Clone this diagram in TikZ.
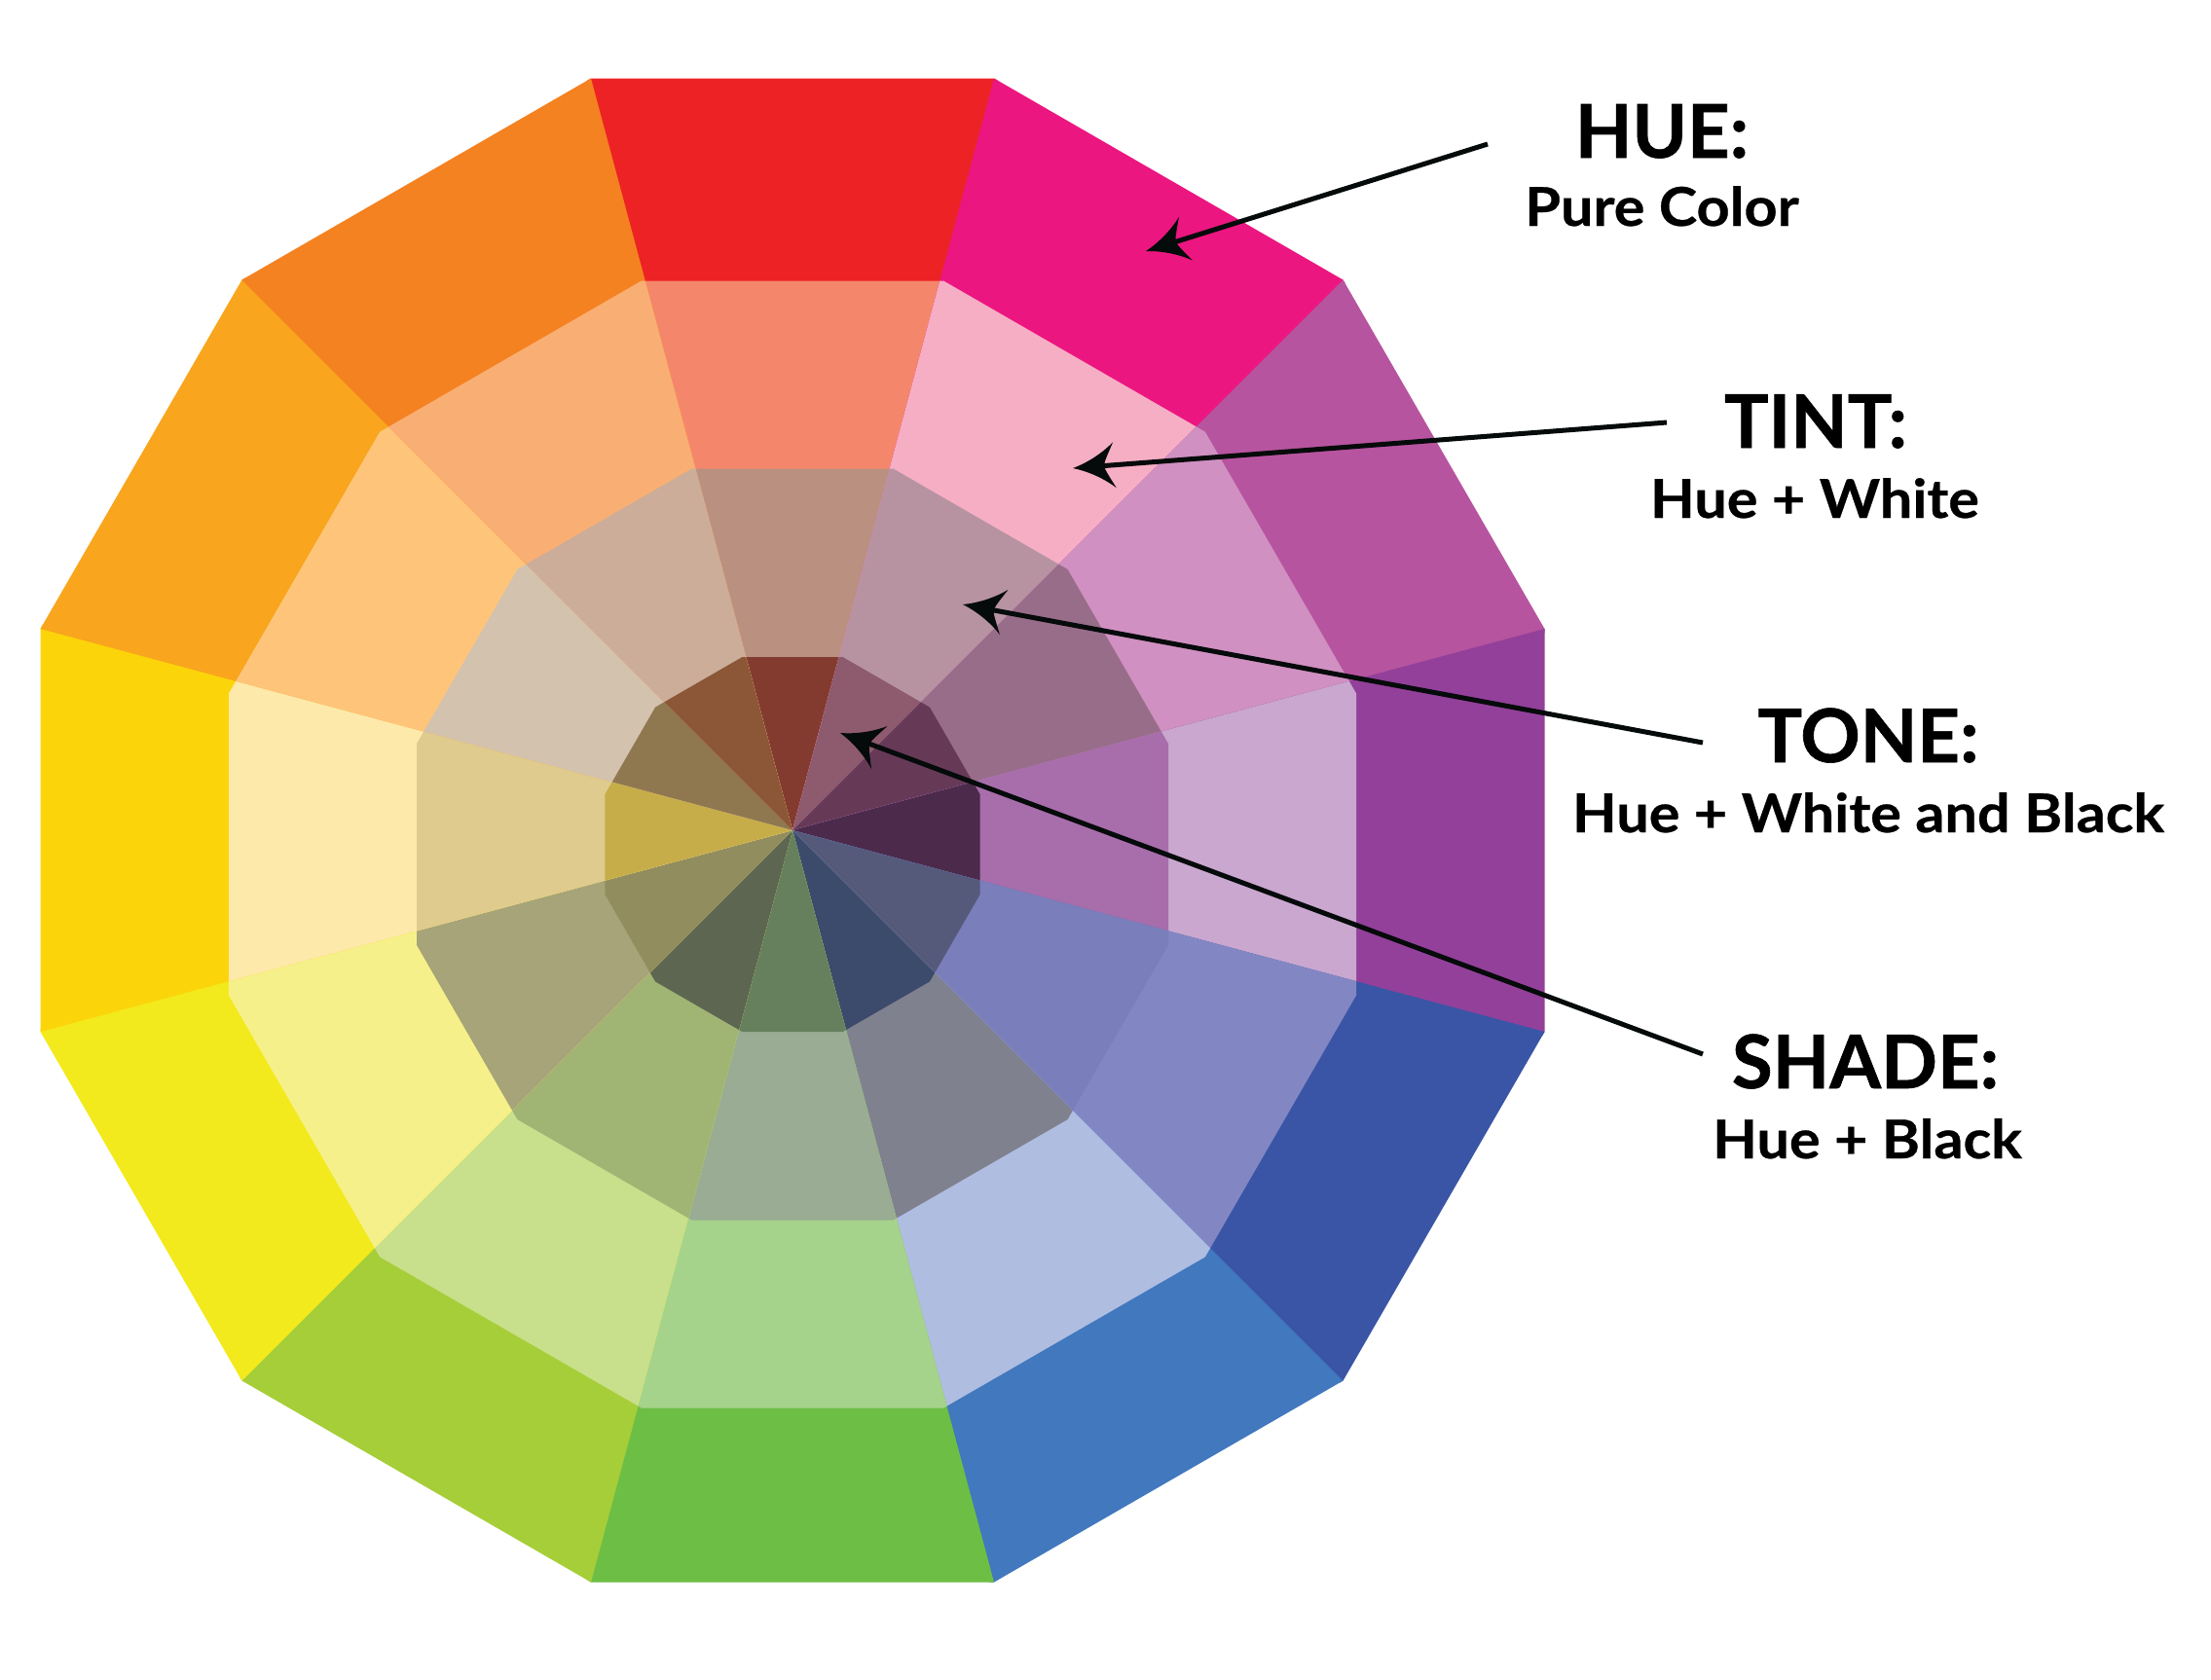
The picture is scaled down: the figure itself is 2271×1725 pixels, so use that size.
\documentclass[tikz,border=0pt]{standalone}
\usepackage{fontspec}
\setmainfont{Lato}
\newfontfamily\ttlfont[FakeBold=0.8]{Lato}
\newfontfamily\subfont[FakeStretch=1.08,FakeBold=0.5]{Lato}
\usetikzlibrary{arrows.meta,calc}

\definecolor{h0}{HTML}{ED2224}\definecolor{h1}{HTML}{EC1680}\definecolor{h2}{HTML}{B7549F}
\definecolor{h3}{HTML}{93409A}\definecolor{h4}{HTML}{3A55A5}\definecolor{h5}{HTML}{4178BE}
\definecolor{h6}{HTML}{6DBE45}\definecolor{h7}{HTML}{A6CE39}\definecolor{h8}{HTML}{F2EA1C}
\definecolor{h9}{HTML}{FCD40A}\definecolor{h10}{HTML}{F9A51D}\definecolor{h11}{HTML}{F48221}

\definecolor{t0}{HTML}{F4876B}\definecolor{t1}{HTML}{F6AEC4}\definecolor{t2}{HTML}{D090C1}
\definecolor{t3}{HTML}{C9A7CF}\definecolor{t4}{HTML}{8287C3}\definecolor{t5}{HTML}{AFBDE1}
\definecolor{t6}{HTML}{A5D38B}\definecolor{t7}{HTML}{C8DF8B}\definecolor{t8}{HTML}{F6F08A}
\definecolor{t9}{HTML}{FDE9AA}\definecolor{t10}{HTML}{FEC57A}\definecolor{t11}{HTML}{F9AF74}

\definecolor{n0}{HTML}{BA9080}\definecolor{n1}{HTML}{B793A1}\definecolor{n2}{HTML}{986D89}
\definecolor{n3}{HTML}{A86DAB}\definecolor{n4}{HTML}{7A7EBA}\definecolor{n5}{HTML}{80818F}
\definecolor{n6}{HTML}{9AAC93}\definecolor{n7}{HTML}{A0B574}\definecolor{n8}{HTML}{A6A478}
\definecolor{n9}{HTML}{DECB8D}\definecolor{n10}{HTML}{D3C2AE}\definecolor{n11}{HTML}{CBAD99}

\definecolor{s0}{HTML}{843B2F}\definecolor{s1}{HTML}{8E5A6D}\definecolor{s2}{HTML}{663A57}
\definecolor{s3}{HTML}{4C2A4B}\definecolor{s4}{HTML}{555A7B}\definecolor{s5}{HTML}{3C4A6B}
\definecolor{s6}{HTML}{66805D}\definecolor{s7}{HTML}{5D6650}\definecolor{s8}{HTML}{918D5E}
\definecolor{s9}{HTML}{C6AD4A}\definecolor{s10}{HTML}{8F7850}\definecolor{s11}{HTML}{8B5736}
\definecolor{inkc}{HTML}{050A0A}

\pgfdeclarearrow{
  name = Dart,
  setup code = {
    \pgfarrowssettipend{0pt}
    \pgfarrowssetbackend{-43pt}
    \pgfarrowssetvisualbackend{-32pt}
    \pgfarrowssetlineend{-28pt}
    \pgfarrowshullpoint{0pt}{0pt}
    \pgfarrowshullpoint{-43pt}{23.5pt}
    \pgfarrowshullpoint{-43pt}{-23.5pt}
  },
  drawing code = {
    \pgfpathmoveto{\pgfqpoint{0pt}{0pt}}
    \pgfpathcurveto{\pgfqpoint{-14pt}{4pt}}{\pgfqpoint{-30pt}{12pt}}{\pgfqpoint{-43pt}{23.5pt}}
    \pgfpathcurveto{\pgfqpoint{-37pt}{12pt}}{\pgfqpoint{-33pt}{5pt}}{\pgfqpoint{-32pt}{0pt}}
    \pgfpathcurveto{\pgfqpoint{-33pt}{-5pt}}{\pgfqpoint{-37pt}{-12pt}}{\pgfqpoint{-43pt}{-23.5pt}}
    \pgfpathcurveto{\pgfqpoint{-30pt}{-12pt}}{\pgfqpoint{-14pt}{-4pt}}{\pgfqpoint{0pt}{0pt}}
    \pgfpathclose
    \pgfusepathqfill
  }
}

\newcommand\ringpath[1]{(p#1-0) -- (p#1-1) -- (p#1-2) -- (p#1-3) -- (p#1-4) -- (p#1-5) -- (p#1-6) -- (p#1-7) -- (p#1-8) -- (p#1-9) -- (p#1-10) -- (p#1-11) -- cycle}

\newcommand\wheelwedge[6]{%
  \begin{scope}
    \clip (apex) -- ({814+1100*sin(#1)},{853-1100*cos(#1)})
      -- ({814+1100*sin((#1+#2)/2)},{853-1100*cos((#1+#2)/2)})
      -- ({814+1100*sin(#2)},{853-1100*cos(#2)}) -- cycle;
    \fill[#3] \ringpath{4};
    \fill[#4] \ringpath{3};
    \fill[#5] \ringpath{2};
    \fill[#6] \ringpath{1};
  \end{scope}}

\tikzset{
  title/.style={anchor=base, inner sep=0pt, font=\ttlfont\fontsize{76}{80}\selectfont\bfseries, text=black},
  subtitle/.style={anchor=base, inner sep=0pt, font=\subfont\fontsize{55}{60}\selectfont\bfseries, text=black},
  pointer/.style={draw=inkc, fill=inkc, line width=5pt, -Dart}
}

\begin{document}
\begin{tikzpicture}[x=1pt, y=-1pt]
\useasboundingbox (0,0) rectangle (2271,1725);
\coordinate (apex) at (814,853);
\foreach \rg/\pcy/\pR in {4/853/799.75, 3/867.5/599.42, 2/867.5/399.62, 1/867.5/199.3}{
  \foreach \k in {0,...,11}{
    \coordinate (p\rg-\k) at ({814+\pR*cos(15+30*\k)},{\pcy+\pR*sin(15+30*\k)});
  }
}

\wheelwedge{-15.3}{15.3}{h0}{t0}{n0}{s0}
\wheelwedge{15}{45.3}{h1}{t1}{n1}{s1}
\wheelwedge{45}{75.3}{h2}{t2}{n2}{s2}
\wheelwedge{75}{105.3}{h3}{t3}{n3}{s3}
\wheelwedge{105}{135.3}{h4}{t4}{n4}{s4}
\wheelwedge{135}{165.3}{h5}{t5}{n5}{s5}
\wheelwedge{165}{195.3}{h6}{t6}{n6}{s6}
\wheelwedge{195}{225.3}{h7}{t7}{n7}{s7}
\wheelwedge{225}{255.3}{h8}{t8}{n8}{s8}
\wheelwedge{255}{285.3}{h9}{t9}{n9}{s9}
\wheelwedge{285}{315.3}{h10}{t10}{n10}{s10}
\wheelwedge{315}{345}{h11}{t11}{n11}{s11}

% labels
\node[title] (hue) at (1707,162) {HUE:};
\node[subtitle] (huesub) at (1707,232) {Pure Color};
\node[title] (tint) at (1865,460) {TINT:};
\node[subtitle] (tintsub) at (1864,532) {Hue + White};
\node[title] (tone) at (1919,783) {TONE:};
\node[subtitle] (tonesub) at (1919,855) {Hue + White and Black};
\node[title] (shade) at (1916,1118) {SHADE:};
\node[subtitle] (shadesub) at (1918,1190) {Hue + Black};

% pointer ends
\coordinate (hueS) at (1528,148);
\coordinate (hueT) at (1177,258);
\coordinate (tintS) at (1712,434);
\coordinate (tintT) at (1102,481);
\coordinate (toneS) at (1749,763);
\coordinate (toneT) at (989,621);
\coordinate (shadeS) at (1749,1083);
\coordinate (shadeT) at (863,753);

\draw[pointer] (hueS) -- (hueT);
\draw[pointer] (tintS) -- (tintT);
\draw[pointer] (toneS) -- (toneT);
\draw[pointer] (shadeS) -- (shadeT);
\end{tikzpicture}
\end{document}
